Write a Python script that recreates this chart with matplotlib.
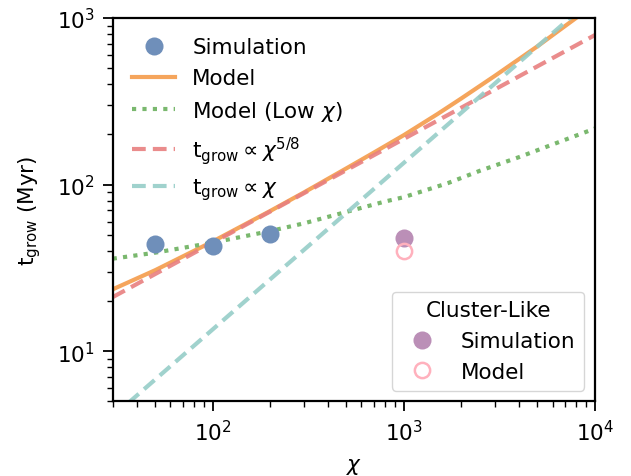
import matplotlib
matplotlib.use("Agg")
import matplotlib.pyplot as plt

plt.rcParams['font.size'] = 15.5

# simulation points
sim_chi = [50, 100, 200]
sim_t = [44.0, 43.0, 50.8]

# cluster-like case
cl_chi = [1000]
cl_sim_t = [47.5]
cl_model_t = [39.7]

# full model curve
model_chi = [30, 50, 100, 200, 300, 500, 700, 1000, 1500, 2000, 3000, 5000, 8000, 9000]
model_t = [23.5, 30.6, 45.5, 69.4, 89.6, 125, 156, 198, 265, 329, 450, 676, 1004, 1110]

# low chi model
low_chi = [30, 50, 100, 200, 300, 500, 800, 1000, 1700, 2500, 4000, 6000, 10000]
low_t = [35.9, 39.0, 44.8, 52.6, 58.5, 68.5, 79.2, 84, 102, 121, 146, 174, 217]

# power laws
p58_chi = [30, 10000]
p58_t = [21.1, 790]
p1_chi = [30, 10000]
p1_t = [4.05, 1350]

fig = plt.figure(figsize=(6.31, 4.77), dpi=100)
ax = fig.add_axes([0.1786, 0.1566, 0.7643, 0.8036])

ax.plot(sim_chi, sim_t, 'o', ms=13, mew=0, color='#6f8fba', zorder=4, label='Simulation')
ax.plot(model_chi, model_t, '-', lw=3, color='#f5a55c', label='Model')
ax.plot(low_chi, low_t, lw=3, color='#7ab86e', dashes=(1, 1.5), label=r'Model (Low $\chi$)')
ax.plot(p58_chi, p58_t, lw=3, color='#e88080', alpha=0.9, dashes=(3.3, 1.7),
        label=r't$_{\rm grow} \propto \chi^{5/8}$')
ax.plot(p1_chi, p1_t, lw=3, color='#96cdc8', alpha=0.9, dashes=(3.3, 1.7),
        label=r't$_{\rm grow} \propto \chi$')

h1, = ax.plot(cl_chi, cl_sim_t, 'o', ms=13, mew=0, color='#bb8fb7', zorder=4)
h2, = ax.plot(cl_chi, cl_model_t, 'o', ms=11, mfc='none', mec='#ffb1bd', mew=1.8, zorder=4)

ax.set_xscale('log')
ax.set_yscale('log')
ax.set_xlim(30, 1e4)
ax.set_ylim(5, 1000)
ax.set_xlabel(r'$\chi$', labelpad=8)
ax.set_ylabel(r't$_{\rm grow}$ (Myr)', labelpad=10)

for s in ax.spines.values():
    s.set_linewidth(1.6)
ax.tick_params(which='major', length=7, width=1.3, pad=6)
ax.tick_params(which='minor', length=4, width=1.0)

leg1 = ax.legend(loc='upper left', frameon=False)
ax.add_artist(leg1)
ax.legend([h1, h2], ['Simulation', 'Model'], title='Cluster-Like', loc='lower right')

fig.savefig('out.png', dpi=100)
